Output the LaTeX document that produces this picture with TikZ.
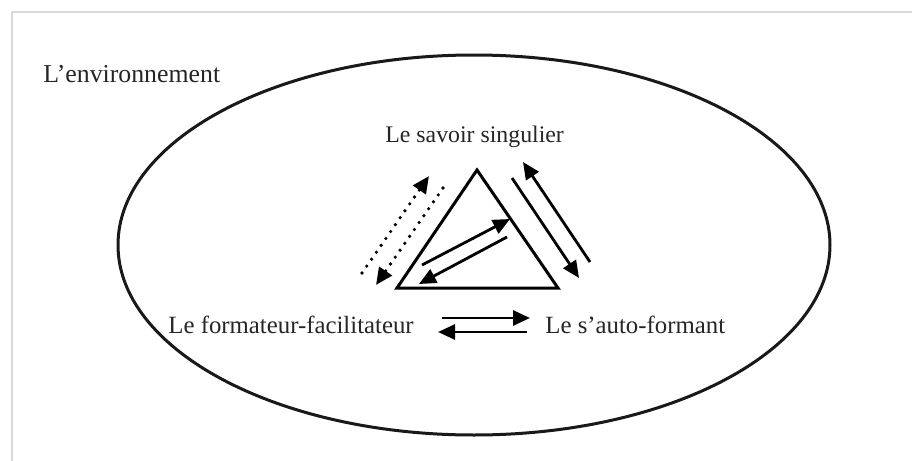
\documentclass[tikz,border=0pt]{standalone}
\usepackage{fontspec}
\setmainfont{Liberation Serif}
\usetikzlibrary{arrows.meta}
\begin{document}
\begin{tikzpicture}[x=0.5pt,y=-0.5pt,
  lbl/.style={anchor=base west, inner sep=0pt, text=black!85},
  arr/.style={line width=1.4pt, -{Triangle[length=8.5pt,width=7.5pt]}},
  dotarr/.style={line width=1.8pt, line cap=round, dash pattern=on 0pt off 4.2pt, -{Triangle[length=8.5pt,width=7.5pt]}},
]
\useasboundingbox (0,0) rectangle (912,461);
\fill[white] (0,0) rectangle (912,461);
\draw[gray!30, line width=1pt] (12,461) -- (12,12) -- (912,12);
% environment ellipse
\draw[line width=1.5pt, black!90] (474,245) ellipse [x radius=356, y radius=190];
% labels
\node[lbl, font=\fontsize{12.9}{15}\selectfont] (env) at (43,82) {L’environnement};
\node[lbl, font=\fontsize{11.9}{14}\selectfont] (sav) at (385,142) {Le savoir singulier};
\node[lbl, font=\fontsize{12.4}{15}\selectfont] (form) at (168,333) {Le formateur-facilitateur};
\node[lbl, font=\fontsize{12.4}{15}\selectfont] (auto) at (545,333) {Le s’auto-formant};
% triangle
\coordinate (A) at (477,170);
\coordinate (B) at (397,288);
\coordinate (C) at (558,288);
\draw[line width=1.5pt, line join=miter] (A) -- (B) -- (C) -- cycle;
% dotted arrows (left side)
\coordinate (d1s) at (362,273); \coordinate (d1e) at (429,176);
\coordinate (d2s) at (443,188); \coordinate (d2e) at (376,285);
\draw[dotarr] (d1s) -- (d1e);
\draw[dotarr] (d2s) -- (d2e);
% right side arrows
\coordinate (r1s) at (512,178); \coordinate (r1e) at (579,278);
\coordinate (r2s) at (590,262); \coordinate (r2e) at (523,162);
\draw[arr] (r1s) -- (r1e);
\draw[arr] (r2s) -- (r2e);
% inner arrows
\coordinate (i1s) at (422,265); \coordinate (i1e) at (510,219);
\coordinate (i2s) at (507,237); \coordinate (i2e) at (419,284);
\draw[arr] (i1s) -- (i1e);
\draw[arr] (i2s) -- (i2e);
% bottom arrows
\coordinate (b1s) at (442,318); \coordinate (b1e) at (530,318);
\coordinate (b2s) at (527,332); \coordinate (b2e) at (438,332);
\draw[arr] (b1s) -- (b1e);
\draw[arr] (b2s) -- (b2e);
\end{tikzpicture}
\end{document}
